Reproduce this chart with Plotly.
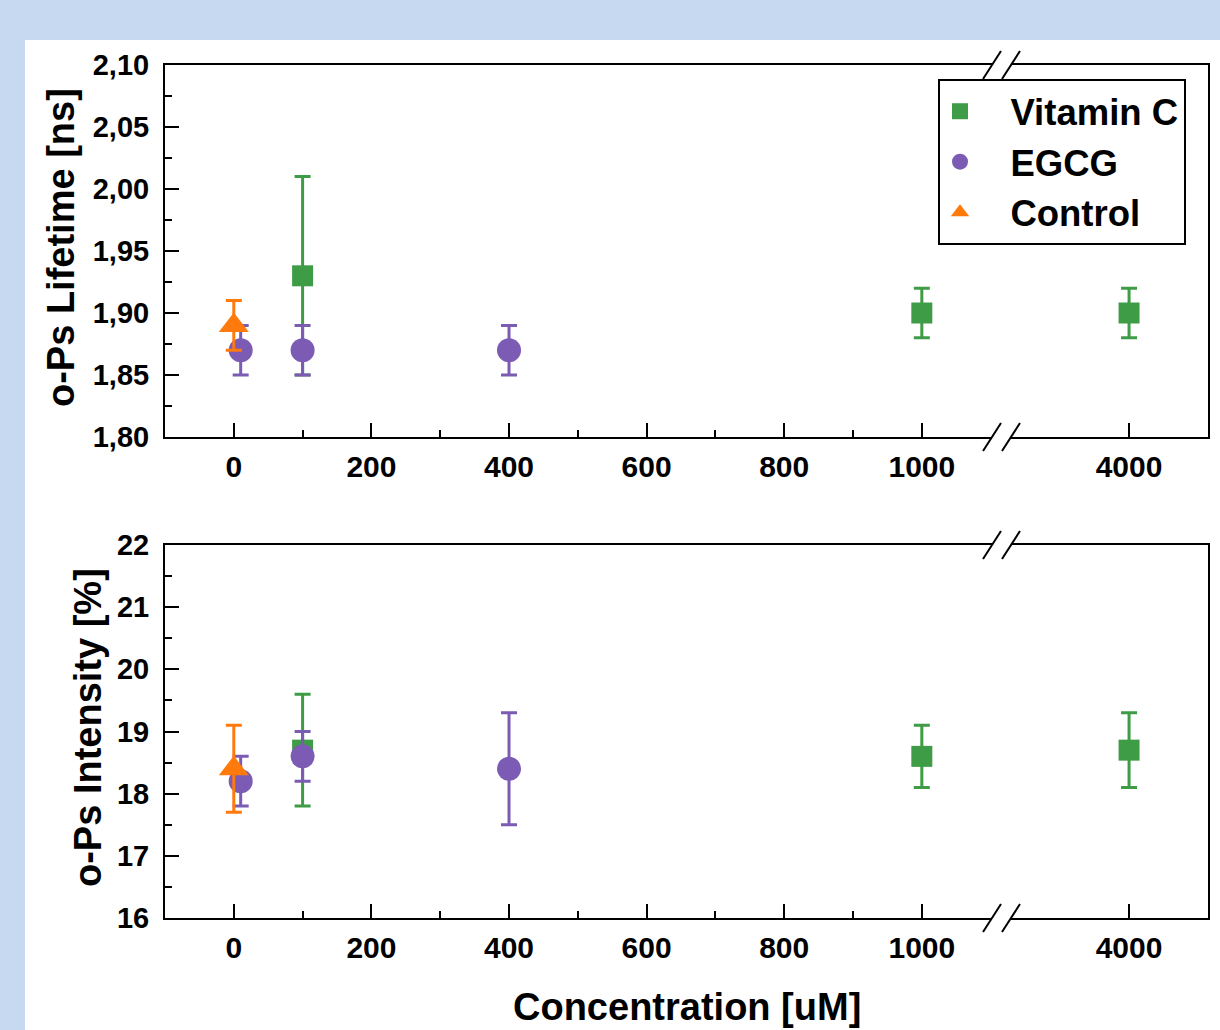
import plotly.graph_objects as go

# ---------------- data ----------------
vitc_x = [100, 1000, 4000]
vitc_life = [1.93, 1.90, 1.90]
vitc_life_err = [0.08, 0.02, 0.02]
vitc_int = [18.7, 18.6, 18.7]
vitc_int_err = [0.9, 0.5, 0.6]

egcg_x = [10, 100, 400]
egcg_life = [1.87, 1.87, 1.87]
egcg_life_err = [0.02, 0.02, 0.02]
egcg_int = [18.2, 18.6, 18.4]
egcg_int_err = [0.4, 0.4, 0.9]

ctrl_x = [0]
ctrl_life = [1.89]
ctrl_life_err = [0.02]
ctrl_int = [18.4]
ctrl_int_err = [0.7]

left_ticks = [0, 200, 400, 600, 800, 1000]
left_minor = [100, 300, 500, 700, 900]
right_ticks = [4000]
break_at = 1100

# ---------------- layout constants ----------------
W, H = 1220, 1030
ML, MR, MT, MB = 165, 12, 65, 112
PW, PH = W - ML - MR, H - MT - MB

def px_x(p):
    return (p - ML) / PW

def px_y(p):
    return (H - MB - p) / PH

left_dom = [0, px_x(992)]
right_dom = [px_x(1011), 1]
top_dom = [px_y(437), 1]
bot_dom = [0, px_y(545)]

GREEN = '#3f9c46'
PURPLE = '#7b5bb3'
ORANGE = '#ff7a0d'
FONT = 'Liberation Sans, Arial, sans-serif'

series = [
    ('Vitamin C', vitc_x, vitc_life, vitc_life_err, vitc_int, vitc_int_err, GREEN, 'square', 21),
    ('EGCG', egcg_x, egcg_life, egcg_life_err, egcg_int, egcg_int_err, PURPLE, 'circle', 24),
    ('Control', ctrl_x, ctrl_life, ctrl_life_err, ctrl_int, ctrl_int_err, ORANGE, 'triangle-up', 26),
]

fig = go.Figure()
for name, xs, ly, le, iy, ie, col, sym, sz in series:
    shown = False
    for panel, ys, es, axes in [
        ('top', ly, le, (('x', 'y'), ('x2', 'y2'))),
        ('bot', iy, ie, (('x3', 'y3'), ('x4', 'y4'))),
    ]:
        for side, (xa, ya) in zip(('left', 'right'), axes):
            idx = [i for i, v in enumerate(xs) if (v <= break_at) == (side == 'left')]
            if not idx:
                continue
            fig.add_trace(go.Scatter(
                x=[xs[i] for i in idx], y=[ys[i] for i in idx],
                error_y=dict(type='data', array=[es[i] for i in idx], color=col,
                             thickness=3, width=8),
                mode='markers', name='\u00a0\u00a0\u00a0' + name,
                marker=dict(symbol=sym, size=sz, color=col),
                xaxis=xa, yaxis=ya, legendgroup=name,
                showlegend=not shown,
            ))
            shown = True

tickfont_x = dict(family=FONT, size=30, color='black', weight='bold')
tickfont_y = dict(family=FONT, size=29, color='black', weight='bold')

common_line = dict(showline=True, linecolor='black', linewidth=2, showgrid=False,
                   zeroline=False)

def left_x(anchor):
    return dict(domain=left_dom, anchor=anchor, range=[-100, 1102], mirror=True,
                tickmode='array', tickvals=left_ticks, ticks='inside', ticklen=14,
                tickwidth=2, tickcolor='black', tickfont=tickfont_x,
                ticklabelstandoff=2,
                minor=dict(tickmode='array', tickvals=left_minor, ticks='inside',
                           ticklen=7, tickwidth=2, tickcolor='black'),
                **common_line)

def right_x(anchor):
    return dict(domain=right_dom, anchor=anchor, range=[3828, 4115], mirror=True,
                tickmode='array', tickvals=right_ticks, ticks='inside', ticklen=14,
                tickwidth=2, tickcolor='black', tickfont=tickfont_x,
                ticklabelstandoff=2,
                **common_line)

fig.update_layout(
    width=W, height=H,
    margin=dict(l=ML, r=MR, t=MT, b=MB),
    paper_bgcolor='#c6d9f0', plot_bgcolor='white',
    separators=', ',
    font=dict(family=FONT, color='black'),
    xaxis=left_x('y'), xaxis2=right_x('y2'),
    xaxis3=left_x('y3'), xaxis4=right_x('y4'),
    yaxis=dict(domain=top_dom, anchor='x', range=[1.80, 2.10], tickmode='linear',
               tick0=1.80, dtick=0.05, tickformat='.2f', ticks='inside', ticklen=14,
               tickwidth=2, tickcolor='black', tickfont=tickfont_y,
               ticklabelstandoff=8,
               minor=dict(dtick=0.025, ticks='inside', ticklen=7, tickwidth=2,
                          tickcolor='black'),
               **common_line),
    yaxis2=dict(domain=top_dom, anchor='x2', matches='y', side='right', ticks='',
                showticklabels=False, **common_line),
    yaxis3=dict(domain=bot_dom, anchor='x3', range=[16, 22], tickmode='linear',
                tick0=16, dtick=1, ticks='inside', ticklen=14,
                tickwidth=2, tickcolor='black', tickfont=tickfont_y,
                ticklabelstandoff=8,
                minor=dict(dtick=0.5, ticks='inside', ticklen=7, tickwidth=2,
                           tickcolor='black'),
                **common_line),
    yaxis4=dict(domain=bot_dom, anchor='x4', matches='y3', side='right', ticks='',
                showticklabels=False, **common_line),
    legend=dict(x=px_x(938), y=px_y(79), xanchor='left', yanchor='top',
                bgcolor='white', bordercolor='black', borderwidth=2,
                font=dict(family=FONT, size=36.5, color='black', weight='bold'),
                itemwidth=30, tracegroupgap=0),
    showlegend=True,
)

# white panel behind everything
fig.add_shape(type='rect', xref='paper', yref='paper', layer='below',
              x0=px_x(25), x1=px_x(W + 5), y0=px_y(H + 5), y1=px_y(40),
              fillcolor='white', line=dict(width=0))

# axis-break marks
for xp in (left_dom[1], right_dom[0]):
    for yp in (top_dom[0], top_dom[1], bot_dom[0], bot_dom[1]):
        fig.add_shape(type='line', xref='paper', yref='paper',
                      xsizemode='pixel', ysizemode='pixel', xanchor=xp, yanchor=yp,
                      x0=-9, x1=9, y0=-14, y1=14, line=dict(color='black', width=2))

# axis titles
fig.add_annotation(text='Concentration [uM]', xref='paper', yref='paper',
                   x=0.5, y=px_y(1007), xanchor='center', yanchor='middle',
                   showarrow=False, font=dict(family=FONT, size=38, weight='bold'))
fig.add_annotation(text='o-Ps Lifetime [ns]', xref='paper', yref='paper',
                   x=px_x(61), y=px_y(248), xanchor='center', yanchor='middle',
                   textangle=-90, showarrow=False,
                   font=dict(family=FONT, size=38, weight='bold'))
fig.add_annotation(text='o-Ps Intensity [%]', xref='paper', yref='paper',
                   x=px_x(88), y=px_y(728), xanchor='center', yanchor='middle',
                   textangle=-90, showarrow=False,
                   font=dict(family=FONT, size=38, weight='bold'))

fig.write_html('out.html')
